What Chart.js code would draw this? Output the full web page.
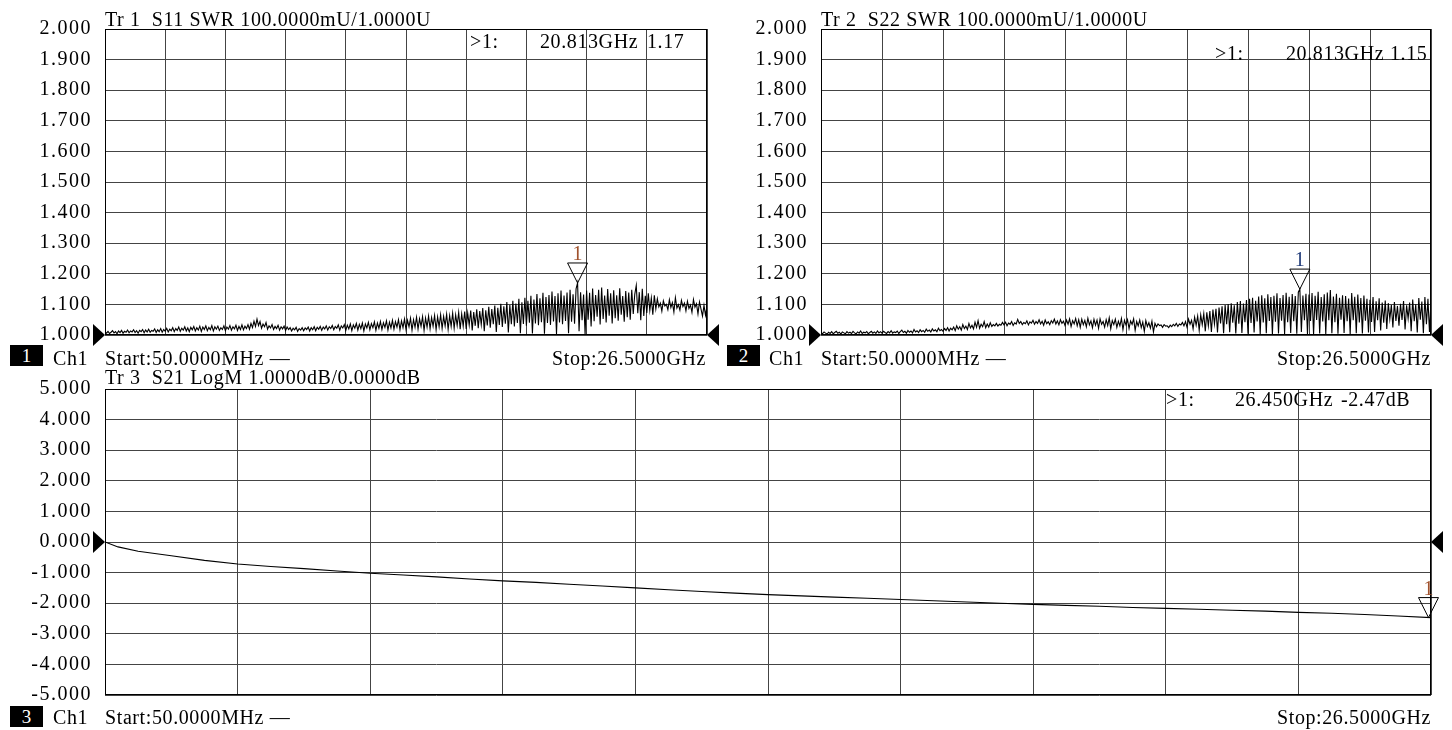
<!DOCTYPE html>
<html lang="en">
<head>
<meta charset="UTF-8" />
<title>VNA S11 / S22 / S21</title>
<style>
  body{margin:0;background:#fff;width:1452px;height:730px;position:relative;overflow:hidden;font-family:"Liberation Serif","DejaVu Serif",serif;color:#000;}
  canvas{position:absolute;}
  .t{position:absolute;font-size:20px;line-height:20px;letter-spacing:.6px;white-space:pre;}
  .r{text-align:right;}
  .tag{position:absolute;width:33px;height:21px;background:#000;color:#fff;font-size:19px;line-height:21px;text-align:center;}
</style>
<script src="https://cdn.jsdelivr.net/npm/chart.js"></script>
</head>
<body>
<canvas id="c1" width="725" height="334" style="left:0;top:14px"></canvas>
<canvas id="c2" width="736" height="334" style="left:716px;top:14px"></canvas>
<canvas id="c3" width="1452" height="334" style="left:0;top:374px"></canvas>

<!-- trace 1 -->
<div class="t" style="left:105px;top:9px">Tr 1  S11 SWR 100.0000mU/1.0000U</div>
<div class="t" style="left:470px;top:31px">&gt;1:</div>
<div class="t" style="left:540px;top:31px">20.813GHz</div>
<div class="t" style="left:647px;top:31px">1.17</div>
<div class="tag" style="left:10px;top:345px">1</div>
<div class="t" style="left:53px;top:348px">Ch1</div>
<div class="t" style="left:105px;top:348px">Start:50.0000MHz —</div>
<div class="t r" style="right:746px;top:348px">Stop:26.5000GHz</div>

<!-- trace 2 -->
<div class="t" style="left:821px;top:9px">Tr 2  S22 SWR 100.0000mU/1.0000U</div>
<div class="t" style="left:1215px;top:43px">&gt;1:</div>
<div class="t" style="left:1286px;top:43px">20.813GHz</div>
<div class="t" style="left:1390px;top:43px">1.15</div>
<div class="tag" style="left:727px;top:345px">2</div>
<div class="t" style="left:769px;top:348px">Ch1</div>
<div class="t" style="left:821px;top:348px">Start:50.0000MHz —</div>
<div class="t r" style="right:21px;top:348px">Stop:26.5000GHz</div>

<!-- trace 3 -->
<div class="t" style="left:105px;top:367px">Tr 3  S21 LogM 1.0000dB/0.0000dB</div>
<div class="t" style="left:1166px;top:389px">&gt;1:</div>
<div class="t" style="left:1235px;top:389px">26.450GHz</div>
<div class="t" style="left:1341px;top:389px">-2.47dB</div>
<div class="tag" style="left:10px;top:706px">3</div>
<div class="t" style="left:53px;top:707px">Ch1</div>
<div class="t" style="left:105px;top:707px">Start:50.0000MHz —</div>
<div class="t r" style="right:21px;top:707px">Stop:26.5000GHz</div>

<script>
/* sweep: 50 MHz .. 26.5 GHz, 401 pts */
const F_START = 0.05, F_STOP = 26.5, NPTS = 401;
const freq = Array.from({length:NPTS}, (_, i) => F_START + i*(F_STOP-F_START)/(NPTS-1));
const xGrid = Array.from({length:11}, (_, i) => F_START + i*(F_STOP-F_START)/10);

/* S11 SWR */
const s11 = [
1.010,1.006,1.012,1.005,1.009,1.014,1.007,1.011,1.004,1.013,1.008,1.015,1.006,1.012,1.009,1.016,1.007,1.013,1.010,1.017,
1.008,1.014,1.006,1.015,1.011,1.018,1.007,1.016,1.010,1.019,1.009,1.015,1.012,1.020,1.008,1.017,1.011,1.021,1.009,1.018,
1.012,1.022,1.010,1.019,1.014,1.024,1.011,1.021,1.015,1.026,1.012,1.022,1.016,1.027,1.013,1.023,1.011,1.025,1.017,1.028,
1.013,1.024,1.016,1.029,1.012,1.026,1.018,1.030,1.014,1.025,1.017,1.031,1.013,1.027,1.019,1.029,1.015,1.024,1.018,1.030,
1.014,1.026,1.019,1.031,1.016,1.027,1.020,1.032,1.015,1.028,1.018,1.033,1.017,1.029,1.021,1.034,1.019,1.038,1.024,1.045,
1.028,1.052,1.031,1.044,1.022,1.036,1.027,1.041,1.019,1.030,1.023,1.034,1.018,1.028,1.021,1.032,1.016,1.027,1.020,1.029,
1.015,1.026,1.018,1.024,1.013,1.022,1.017,1.025,1.012,1.021,1.016,1.024,1.014,1.023,1.018,1.026,1.013,1.024,1.017,1.027,
1.014,1.025,1.019,1.028,1.015,1.026,1.020,1.030,1.016,1.027,1.021,1.031,1.017,1.028,1.022,1.033,1.016,1.030,1.023,1.034,
1.015,1.032,1.020,1.036,1.014,1.033,1.022,1.038,1.016,1.035,1.021,1.039,1.013,1.036,1.023,1.041,1.017,1.037,1.024,1.043,
1.015,1.039,1.022,1.044,1.018,1.040,1.025,1.046,1.016,1.042,1.023,1.048,1.019,1.044,1.026,1.050,1.017,1.046,1.024,1.052,
1.018,1.048,1.027,1.055,1.016,1.050,1.025,1.058,1.019,1.053,1.028,1.060,1.015,1.055,1.026,1.062,1.020,1.057,1.029,1.064,
1.017,1.059,1.027,1.066,1.021,1.061,1.030,1.068,1.018,1.063,1.028,1.071,1.022,1.066,1.031,1.074,1.019,1.069,1.029,1.077,
1.020,1.072,1.032,1.080,1.015,1.075,1.030,1.084,1.022,1.078,1.034,1.088,1.012,1.081,1.031,1.092,1.024,1.085,1.035,1.096,
1.010,1.089,1.033,1.102,1.026,1.094,1.037,1.108,1.008,1.098,1.035,1.112,1.028,1.103,1.039,1.118,1.006,1.107,1.036,1.122,
1.030,1.112,1.040,1.128,1.005,1.116,1.038,1.134,1.032,1.120,1.042,1.138,1.004,1.124,1.039,1.131,1.033,1.142,1.044,1.127,
1.003,1.136,1.041,1.145,1.035,1.129,1.046,1.139,1.006,1.148,1.043,1.133,1.037,1.151,1.170,1.012,1.140,1.048,1.132,1.002,
1.145,1.050,1.138,1.028,1.152,1.045,1.131,1.060,1.148,1.034,1.155,1.052,1.129,1.041,1.150,1.063,1.136,1.038,1.146,1.055,
1.130,1.047,1.153,1.066,1.127,1.043,1.144,1.058,1.139,1.050,1.148,1.069,1.133,1.162,1.071,1.140,1.048,1.151,1.062,1.128,
1.072,1.136,1.080,1.121,1.066,1.130,1.085,1.118,1.092,1.104,1.078,1.112,1.095,1.100,1.083,1.115,1.090,1.106,1.075,1.122,
1.088,1.099,1.081,1.113,1.093,1.104,1.079,1.110,1.087,1.098,1.074,1.116,1.091,1.102,1.069,1.108,1.085,1.062,1.097,1.065,
1.093];

/* S22 SWR */
const s22 = [
1.008,1.004,1.010,1.006,1.003,1.009,1.005,1.011,1.004,1.008,1.012,1.006,1.009,1.003,1.010,1.007,1.004,1.011,1.006,1.009,
1.005,1.012,1.007,1.004,1.010,1.006,1.013,1.005,1.009,1.007,1.011,1.004,1.008,1.012,1.006,1.010,1.005,1.013,1.007,1.011,
1.006,1.012,1.008,1.005,1.011,1.007,1.014,1.006,1.010,1.008,1.013,1.005,1.011,1.016,1.008,1.012,1.006,1.015,1.009,1.013,
1.007,1.018,1.010,1.014,1.008,1.017,1.011,1.015,1.009,1.019,1.012,1.016,1.010,1.020,1.013,1.017,1.011,1.022,1.014,1.018,
1.012,1.021,1.015,1.024,1.013,1.022,1.017,1.026,1.014,1.030,1.019,1.027,1.016,1.034,1.021,1.029,1.018,1.038,1.023,1.032,
1.020,1.042,1.025,1.047,1.022,1.035,1.027,1.044,1.024,1.036,1.026,1.040,1.028,1.034,1.030,1.038,1.029,1.035,1.032,1.041,
1.033,1.042,1.030,1.039,1.035,1.044,1.031,1.040,1.036,1.051,1.038,1.044,1.034,1.041,1.037,1.046,1.033,1.043,1.039,1.048,
1.035,1.044,1.038,1.050,1.036,1.045,1.032,1.049,1.037,1.043,1.034,1.047,1.039,1.052,1.036,1.046,1.033,1.050,1.038,1.045,
1.031,1.049,1.035,1.053,1.028,1.047,1.036,1.054,1.030,1.050,1.025,1.052,1.034,1.048,1.027,1.055,1.033,1.046,1.024,1.051,
1.032,1.049,1.022,1.053,1.035,1.044,1.026,1.050,1.031,1.056,1.020,1.047,1.034,1.052,1.025,1.045,1.030,1.054,1.018,1.048,
1.033,1.050,1.021,1.046,1.035,1.053,1.015,1.044,1.030,1.049,1.024,1.042,1.012,1.047,1.028,1.040,1.022,1.045,1.010,1.038,
1.027,1.036,1.031,1.033,1.025,1.034,1.029,1.030,1.024,1.032,1.027,1.035,1.030,1.038,1.028,1.036,1.033,1.041,1.030,1.044,
1.026,1.052,1.035,1.048,1.020,1.058,1.032,1.062,1.015,1.066,1.034,1.070,1.012,1.074,1.030,1.078,1.010,1.083,1.036,1.086,
1.008,1.090,1.038,1.094,1.006,1.098,1.035,1.101,1.009,1.104,1.040,1.097,1.005,1.108,1.037,1.111,1.007,1.103,1.042,1.114,
1.004,1.118,1.039,1.122,1.008,1.112,1.044,1.126,1.003,1.130,1.041,1.120,1.006,1.133,1.046,1.124,1.002,1.128,1.043,1.136,
1.005,1.121,1.047,1.131,1.003,1.138,1.042,1.125,1.007,1.134,1.045,1.127,1.004,1.140,1.150,1.010,1.129,1.048,1.135,1.003,
1.132,1.046,1.137,1.002,1.128,1.049,1.141,1.005,1.124,1.044,1.133,1.003,1.139,1.048,1.147,1.006,1.126,1.042,1.135,1.004,
1.122,1.050,1.130,1.007,1.127,1.045,1.119,1.003,1.137,1.048,1.125,1.006,1.132,1.041,1.121,1.005,1.129,1.047,1.118,1.008,
1.115,1.043,1.124,1.010,1.110,1.048,1.120,1.015,1.106,1.040,1.113,1.020,1.104,1.052,1.098,1.025,1.108,1.046,1.095,1.030,
1.102,1.049,1.111,1.018,1.097,1.054,1.106,1.012,1.116,1.045,1.100,1.008,1.121,1.050,1.109,1.006,1.124,1.035,1.118,1.010,
1.112];

/* S21 LogM (dB) */
const s21Freq = [0.050,0.310,0.711,1.373,2.034,2.695,3.356,4.018,4.679,5.340,6.001,6.663,7.324,7.985,8.646,9.308,9.969,10.630,11.291,11.953,12.614,
  13.275,13.936,14.598,15.259,15.920,16.581,17.243,17.904,18.565,19.226,19.888,20.549,21.210,21.871,22.533,23.194,23.855,24.516,25.178,25.839,26.500];
const s21 = [0.00,-0.16,-0.30,-0.45,-0.60,-0.72,-0.80,-0.87,-0.95,-1.02,-1.08,-1.14,-1.21,-1.27,-1.32,-1.38,-1.44,-1.50,-1.56,-1.62,-1.67,
  -1.72,-1.76,-1.80,-1.84,-1.88,-1.92,-1.96,-2.00,-2.04,-2.07,-2.10,-2.14,-2.17,-2.20,-2.23,-2.26,-2.30,-2.33,-2.37,-2.42,-2.47];

/* markers: [freq GHz, value, label colour] */
const mk1 = [20.813, 1.17, '#a0522d'];
const mk2 = [20.813, 1.15, '#1f3a78'];
const mk3 = [26.450, -2.47, '#a0522d'];

/* ---- overlay: frame, reference arrows, marker ---- */
const vnaPlugin = {
  id:'vna',
  beforeDraw(chart){ chart.ctx.letterSpacing = '1.5px'; },
  afterDraw(chart, args, o){
    const {ctx, chartArea:a, scales:{x, y}} = chart;
    ctx.save();
    ctx.letterSpacing = '0px';
    ctx.strokeStyle = '#000'; ctx.lineWidth = 1;
    ctx.strokeRect(Math.round(a.left)+.5, Math.round(a.top)+.5, Math.round(a.right-a.left)-1, Math.round(a.bottom-a.top)-1);
    // reference level arrows
    const ry = Math.round(y.getPixelForValue(o.ref));
    ctx.fillStyle = '#000';
    ctx.beginPath(); ctx.moveTo(a.left, ry); ctx.lineTo(a.left-12, ry-11); ctx.lineTo(a.left-12, ry+11); ctx.fill();
    ctx.beginPath(); ctx.moveTo(a.right, ry); ctx.lineTo(a.right+12, ry-11); ctx.lineTo(a.right+12, ry+11); ctx.fill();
    // marker 1
    const mx = x.getPixelForValue(o.mk[0]), my = y.getPixelForValue(o.mk[1]);
    ctx.beginPath(); ctx.moveTo(mx, my); ctx.lineTo(mx-10, my-20); ctx.lineTo(mx+10, my-20); ctx.closePath();
    ctx.stroke();
    ctx.fillStyle = o.mk[2];
    ctx.font = '20px "Liberation Serif"';
    ctx.textAlign = 'center'; ctx.textBaseline = 'alphabetic';
    ctx.fillText('1', mx, my-23);
    ctx.restore();
  }
};

function makeChart(id, xs, ys, yMin, yMax, yStep, ref, mk, padRight){
  return new Chart(document.getElementById(id), {
    type:'line',
    data:{datasets:[{data:xs.map((f, i) => ({x:f, y:ys[i]})), borderColor:'#000', borderWidth:1.1,
      pointRadius:0, tension:0, fill:false}]},
    options:{
      responsive:false, animation:false, events:[],
      layout:{padding:{top:15, bottom:13, right:padRight, left:0}},
      plugins:{legend:{display:false}, tooltip:{enabled:false}, vna:{ref:ref, mk:mk}},
      scales:{
        x:{type:'linear', min:F_START, max:F_STOP,
           afterBuildTicks:s => { s.ticks = xGrid.map(v => ({value:v})); },
           afterFit:s => { s.height = 0; s.paddingLeft = 0; s.paddingRight = 0; },
           ticks:{display:false}, grid:{color:'#444', drawTicks:false}, border:{display:false}},
        y:{min:yMin, max:yMax,
           afterFit:s => { s.width = 105; s.paddingTop = 0; s.paddingBottom = 0; },
           ticks:{stepSize:yStep, padding:13, color:'#000', font:{family:'Liberation Serif', size:20},
                  callback:v => v.toFixed(3)},
           grid:{color:'#444', drawTicks:false}, border:{display:false}}
      }
    },
    plugins:[vnaPlugin]
  });
}

makeChart('c1', freq, s11, 1, 2, 0.1, 1, mk1, 18);
makeChart('c2', freq, s22, 1, 2, 0.1, 1, mk2, 21);
makeChart('c3', s21Freq, s21, -5, 5, 1, 0, mk3, 21);
</script>
</body>
</html>
